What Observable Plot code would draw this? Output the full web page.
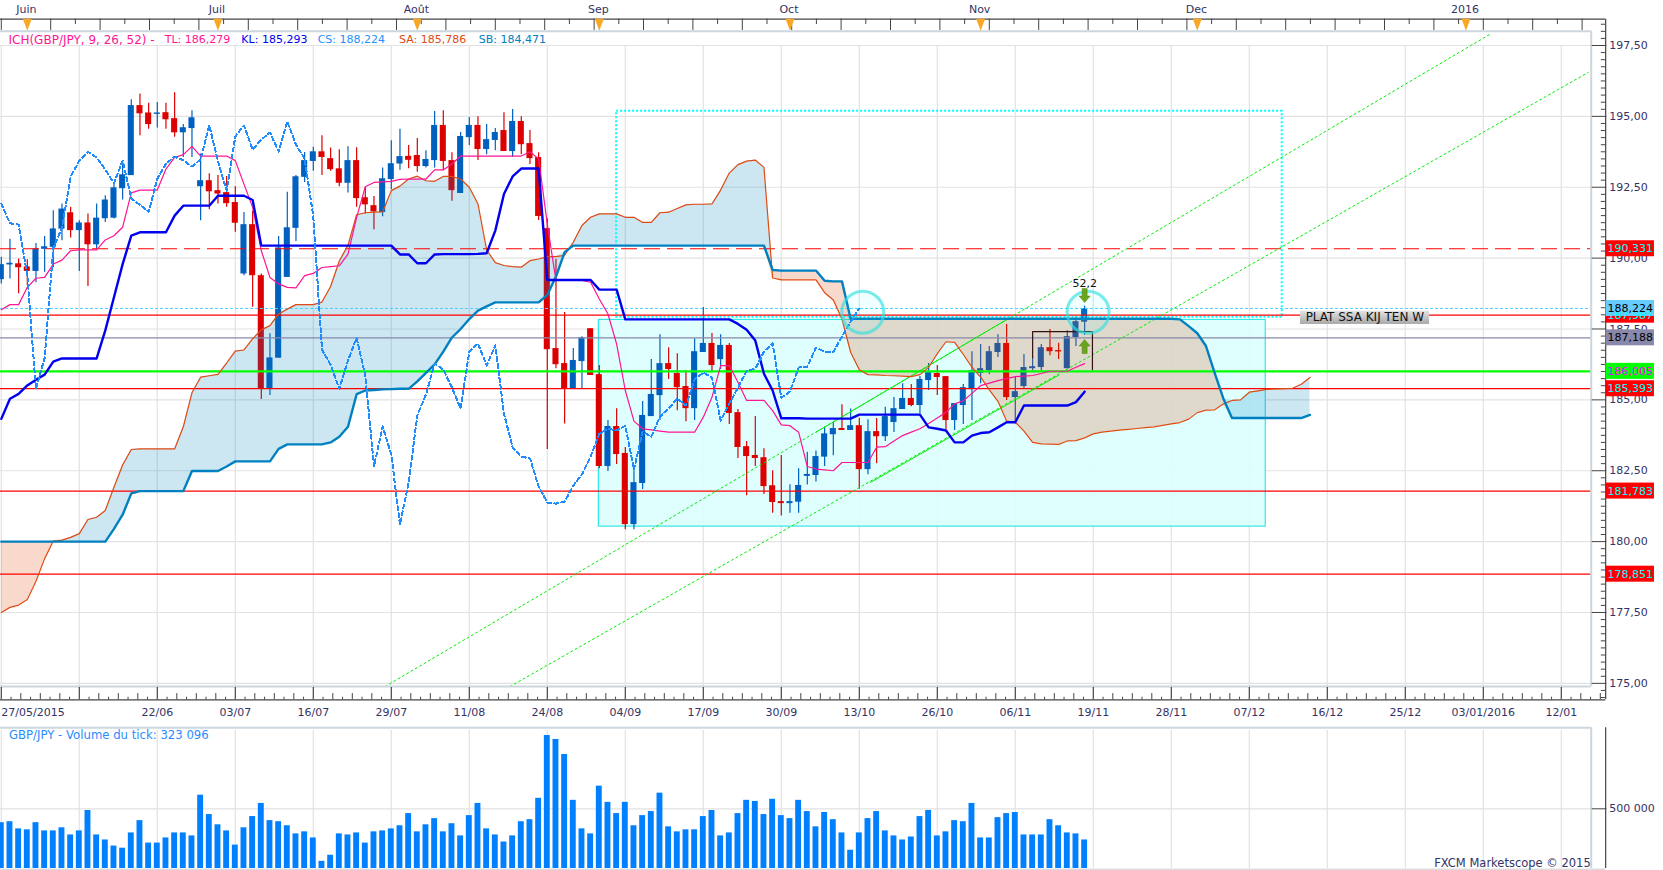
<!DOCTYPE html>
<html><head><meta charset="utf-8">
<script src="https://cdn.jsdelivr.net/npm/d3@7"></script>
<script src="https://cdn.jsdelivr.net/npm/@observablehq/plot@0.6"></script>
<style>html,body{margin:0;padding:0;background:#fff;overflow:hidden}svg{display:block}</style>
</head><body><div id="main"></div><div id="volume"></div>
<script>
// Daily candles, bar index = array position (last bar 125)
const open=[189.24,189.76,189.80,189.69,189.53,190.31,190.38,191.02,191.60,190.97,
191.24,190.47,191.39,191.41,192.45,192.91,195.38,195.12,195.07,195.13,
194.92,194.42,194.57,192.52,192.73,192.38,192.31,191.96,189.44,191.18,
189.38,185.39,186.47,189.32,191.05,192.85,193.41,193.75,193.51,193.15,
192.64,193.44,192.13,191.85,191.61,192.77,193.32,193.59,193.62,193.23,
193.44,194.68,193.44,192.28,194.25,194.68,193.83,194.15,194.50,193.76,
194.82,194.04,193.55,191.04,186.81,186.28,185.39,186.35,187.51,185.89,
182.65,184.06,183.11,180.60,182.05,184.41,185.15,186.28,185.93,185.47,
184.69,186.67,186.99,186.42,186.92,184.55,183.35,183.04,182.96,181.97,
181.41,181.34,181.39,182.30,182.33,182.98,183.77,183.99,183.92,184.09,
182.54,183.88,183.70,184.20,184.66,185.05,184.80,185.68,185.93,185.82,
184.27,184.80,185.40,185.93,186.03,186.67,186.99,185.08,185.47,186.10,
186.14,186.84,186.74,186.10,187.20,187.74];
const high=[190.03,190.67,189.97,189.94,190.52,190.76,191.67,191.91,191.79,191.32,
191.56,191.91,192.20,192.67,193.44,195.59,195.79,195.46,195.49,195.46,
195.83,194.71,195.20,193.67,192.98,192.91,192.88,192.52,191.61,191.65,
189.44,187.33,190.76,192.32,192.91,193.73,193.91,194.32,193.88,193.82,
193.93,193.89,192.50,192.17,193.18,194.14,194.55,193.97,194.22,193.79,
195.17,195.20,193.72,194.43,194.96,194.99,194.71,194.57,195.13,195.24,
194.99,194.50,193.72,191.39,189.95,188.08,186.81,187.23,187.51,186.21,
184.27,184.69,183.32,182.50,184.94,186.42,187.30,186.84,186.63,186.03,
187.16,188.26,187.34,187.30,186.99,184.66,183.53,184.41,183.28,182.50,
183.04,182.01,182.57,183.15,183.20,184.03,184.21,184.83,184.68,184.35,
184.30,184.34,184.74,185.08,185.57,185.54,185.82,186.28,186.21,185.82,
184.87,185.54,186.70,186.95,186.88,187.30,187.66,185.80,186.60,186.50,
186.95,187.48,187.00,187.44,187.94,188.30];
const low=[189.09,189.26,188.74,189.03,189.13,189.50,189.67,190.61,190.71,189.53,
189.00,190.32,191.26,191.38,192.05,192.91,194.32,194.55,194.59,194.55,
194.26,193.55,193.55,191.32,191.71,191.91,191.79,190.91,189.38,188.27,
185.01,185.15,186.47,189.32,190.59,192.67,193.06,192.91,193.06,192.52,
192.30,191.79,191.56,191.00,191.46,192.41,193.10,193.15,193.03,193.18,
193.18,193.09,192.01,192.28,193.97,193.44,193.65,193.79,193.76,193.56,
193.65,193.30,191.33,183.25,186.10,184.15,185.39,185.39,185.86,182.57,
182.47,182.72,180.42,180.42,181.84,184.41,184.27,185.72,184.62,184.23,
184.27,186.67,185.96,186.07,184.13,182.93,181.62,182.65,181.66,181.00,
180.90,181.00,181.00,182.00,182.10,182.65,183.03,183.92,183.92,181.85,
182.36,182.75,183.53,183.85,184.66,184.76,184.50,185.33,185.15,183.94,
183.92,184.13,184.27,185.57,185.89,186.49,184.98,184.15,185.39,186.03,
186.03,186.56,186.42,186.09,186.88,187.27];
const close=[189.77,189.82,189.66,189.53,190.32,190.40,191.03,191.73,190.97,191.24,
190.47,191.41,192.05,192.48,192.94,195.38,195.09,194.71,195.12,194.88,
194.42,194.60,194.95,192.73,192.34,192.26,191.92,191.23,191.18,189.38,
185.39,186.48,190.36,191.07,192.87,193.44,193.75,193.55,193.12,192.64,
193.44,192.10,191.88,191.63,192.80,193.33,193.58,193.45,193.23,193.48,
194.68,193.41,192.38,194.29,194.68,193.83,194.18,194.43,193.76,194.82,
194.00,193.51,191.47,186.77,186.24,185.39,186.39,187.19,185.86,182.65,
184.06,183.07,180.60,182.08,184.45,185.19,186.28,186.07,185.43,184.69,
186.70,186.99,186.21,186.92,184.52,183.32,183.00,182.93,181.94,181.38,
181.34,181.41,181.98,182.37,183.00,183.80,183.99,183.92,184.09,182.54,
183.88,183.70,184.41,184.69,185.05,184.80,185.72,185.96,185.79,184.27,
184.87,185.43,186.03,186.10,186.70,186.99,185.08,185.29,186.14,186.17,
186.84,186.70,186.69,187.23,187.76,188.22];
// Ichimoku lines, one value per bar
const tenkan=[188.18,188.36,188.36,188.97,189.29,189.32,189.79,189.93,190.26,190.29,
190.29,190.29,190.64,190.79,191.09,192.30,192.40,192.40,192.40,193.14,
193.55,193.65,193.94,193.60,193.60,193.60,193.60,193.44,192.61,191.79,
190.26,189.32,189.09,188.97,188.95,189.38,189.46,189.67,189.70,189.73,
190.14,191.44,192.52,192.67,192.69,192.71,192.78,192.79,192.79,192.79,
193.11,193.11,193.32,193.60,193.60,193.60,193.60,193.60,193.60,193.60,
193.60,193.75,193.50,191.20,189.21,189.21,189.21,189.21,189.15,188.56,
188.03,186.97,185.33,184.25,183.98,183.94,183.90,183.86,183.86,183.86,
183.86,184.39,185.09,186.21,186.21,185.62,184.98,184.98,184.98,184.62,
184.12,184.09,183.86,182.65,182.56,182.53,182.50,182.79,182.79,182.79,
182.79,183.33,183.35,183.55,183.74,183.86,183.98,184.17,184.36,184.56,
184.86,184.97,185.23,185.50,185.59,185.68,185.75,185.82,185.84,185.86,
185.93,186.01,186.01,186.01,186.15,186.28];
const kijun=[184.33,185.04,185.21,185.51,185.71,185.89,186.35,186.46,186.46,186.46,
186.46,186.46,187.45,188.62,189.79,190.79,190.91,190.91,190.91,190.91,
191.50,191.85,191.85,191.85,191.85,192.20,192.20,192.20,192.20,192.05,
190.44,190.44,190.44,190.44,190.44,190.44,190.44,190.44,190.44,190.44,
190.44,190.44,190.44,190.44,190.44,190.44,190.13,190.13,189.82,189.82,
190.13,190.14,190.14,190.14,190.14,190.15,190.17,190.97,192.26,192.88,
193.16,193.16,193.16,189.23,189.23,189.23,189.23,189.23,189.23,188.89,
188.89,188.89,187.84,187.84,187.84,187.84,187.84,187.84,187.84,187.84,
187.84,187.84,187.84,187.84,187.84,187.68,187.47,187.09,185.92,185.33,
184.35,184.35,184.35,184.34,184.34,184.34,184.34,184.34,184.34,184.48,
184.48,184.48,184.48,184.48,184.48,184.48,184.48,184.03,183.98,183.92,
183.50,183.50,183.74,183.83,183.86,184.03,184.21,184.21,184.80,184.80,
184.80,184.80,184.80,184.80,184.92,185.29];
const chikou=[191.92,191.23,191.18,189.38,185.39,186.48,190.36,191.07,192.87,193.44,
193.75,193.55,193.12,192.64,193.44,192.10,191.88,191.63,192.80,193.33,
193.58,193.45,193.23,193.48,194.68,193.41,192.38,194.29,194.68,193.83,
194.18,194.43,193.76,194.82,194.00,193.51,191.47,186.77,186.24,185.39,
186.39,187.19,185.86,182.65,184.06,183.07,180.60,182.08,184.45,185.19,
186.28,186.07,185.43,184.69,186.70,186.99,186.21,186.92,184.52,183.32,
183.00,182.93,181.94,181.38,181.34,181.41,181.98,182.37,183.00,183.80,
183.99,183.92,184.09,182.54,183.88,183.70,184.41,184.69,185.05,184.80,
185.72,185.96,185.79,184.27,184.87,185.43,186.03,186.10,186.70,186.99,
185.08,185.29,186.14,186.17,186.84,186.70,186.69,187.23,187.76,188.22];
const senkouA=[177.50,177.68,177.76,177.96,178.60,179.40,180.02,180.05,180.15,180.28,
180.78,180.86,181.10,181.92,182.70,183.25,183.27,183.27,183.27,183.27,
183.27,184.05,185.25,185.80,185.85,185.90,186.30,186.72,186.76,187.15,
187.47,187.62,188.03,188.20,188.36,188.36,188.36,188.45,189.00,189.90,
190.45,191.53,191.60,191.62,191.63,192.38,192.54,192.79,192.89,192.73,
192.71,192.88,192.88,192.79,192.50,191.91,190.29,189.84,189.74,189.70,
189.68,189.91,189.97,190.05,190.05,190.10,190.56,191.15,191.44,191.56,
191.56,191.56,191.44,191.44,191.26,191.26,191.60,191.62,191.75,191.88,
191.90,191.90,191.91,192.40,193.00,193.30,193.42,193.46,193.20,189.30,
189.23,189.23,189.23,189.23,189.23,188.78,188.52,187.85,186.68,186.06,
185.89,185.88,185.86,185.85,185.84,185.82,185.89,186.15,186.63,187.05,
187.03,186.60,186.15,185.80,185.35,184.95,184.25,184.21,183.90,183.50,
183.45,183.44,183.43,183.55,183.56,183.66,183.80,183.86,183.90,183.93,
183.96,183.99,184.02,184.05,184.10,184.15,184.20,184.32,184.55,184.64,
184.65,184.85,184.98,185.00,185.27,185.32,185.37,185.39,185.40,185.41,
185.55,185.79];
const senkouB=[180.00,180.00,180.00,180.00,180.00,180.00,180.00,180.00,180.00,180.00,
180.00,180.00,180.00,180.45,180.95,181.70,181.78,181.78,181.78,181.78,
181.78,181.78,182.49,182.49,182.49,182.49,182.65,182.83,182.83,182.83,
182.83,182.83,183.27,183.43,183.43,183.43,183.43,183.43,183.50,183.70,
184.05,185.20,185.33,185.35,185.37,185.38,185.39,185.39,185.65,185.95,
186.25,186.70,187.20,187.50,187.85,188.15,188.30,188.44,188.44,188.44,
188.44,188.44,188.44,188.70,189.35,190.21,190.44,190.44,190.44,190.44,
190.44,190.44,190.44,190.44,190.44,190.44,190.44,190.44,190.44,190.44,
190.44,190.44,190.44,190.44,190.44,190.44,190.44,190.44,190.44,189.58,
189.56,189.56,189.56,189.56,189.56,189.20,189.18,189.18,187.86,187.86,
187.86,187.86,187.86,187.86,187.86,187.86,187.86,187.86,187.86,187.86,
187.86,187.86,187.86,187.86,187.86,187.86,187.86,187.86,187.86,187.86,
187.86,187.86,187.86,187.86,187.86,187.86,187.86,187.86,187.86,187.86,
187.86,187.86,187.86,187.86,187.86,187.86,187.84,187.60,187.35,186.90,
185.95,185.05,184.36,184.36,184.36,184.36,184.36,184.36,184.36,184.36,
184.36,184.47];
const volume=[384,392,332,324,384,315,315,341,281,315,486,281,239,188,170,298,401,213,213,256,
298,298,273,614,452,366,315,196,341,435,545,401,392,358,290,307,256,60,111,290,
281,298,213,307,315,332,358,460,307,366,418,307,375,273,443,545,332,281,222,273,
392,409,588,1114,1081,955,571,332,290,690,554,460,554,358,443,477,631,349,307,324,
324,435,486,273,298,460,571,562,452,580,443,418,571,477,349,469,409,298,153,298,
418,477,315,273,239,264,435,486,273,307,401,392,545,256,256,426,460,469,281,281,
281,409,358,298,290,239].map(k=>k*1000);
// Axis ticks and labels
const tickBars=[0,9,18,27,36,45,54,63,72,81,90,99,108,117,126,135,144,153,162,171,180];
const tickLabels=["27/05/2015","","22/06","03/07","16/07","29/07","11/08","24/08","04/09","17/09","30/09","13/10","26/10","06/11","19/11","28/11","07/12","16/12","25/12","03/01/2016","12/01"];
const monthBars=[3,25,48,69,91,113,138,169];
const monthLabels=["Juin","Juil","Août","Sep","Oct","Nov","Dec","2016"];
const priceTicks=[175,177.5,180,182.5,185,187.5,190,192.5,195,197.5];
// Horizontal levels
const redLevels=[187.987,185.393,181.783,178.851];
const dashedLevel=190.331, chikouLevel=188.224, kijunLevel=187.188, greenLevel=186.005;
const tagLevels=[190.331,187.987,188.224,187.188,186.005,185.393,181.783,178.851];
const tagFill=["#ff0000","#ff0000","#66ccff","#8888aa","#00ff00","#ff0000","#ff0000","#ff0000"];
const tagText=["#00ffff","#00ffff","#000000","#000000","#ff00ff","#00ffff","#00ffff","#00ffff"];
// Channel end points (bar, price)
const channelUpper=[[44.3,174.89],[171.9,197.92]];
const channelLower=[[58.7,174.89],[183.1,196.55]];
const channelUpperDense=[[94,183.86],[116,187.83]];
const channelLowerDense=[[100.3,182.09],[122,185.87]];
// Legend
const legendText=["ICH(GBP/JPY, 9, 26, 52) -","TL: 186,279","KL: 185,293","CS: 188,224","SA: 185,786","SB: 184,471"];
const legendBars=[0.83,18.85,27.7,36.5,45.9,55.1];
const legendColors=["#ff1493","#ff1493","#0000ee","#1e90ff","#e04a10","#0080c0"];

const font="DejaVu Sans, Verdana, sans-serif";
const navy="#333366", gridC="#e2e2e2", frameC="#ccd6de", axisC="#444444", crisp="crispEdges";
const bars=close.map((c,i)=>({i,o:open[i],h:high[i],l:low[i],c,up:c>=open[i]}));
const cloud=senkouA.map((a,i)=>({i,a,b:senkouB[i]}));
const xDomain=[-0.0923,183.45];
const comma=(v,n=2)=>v.toFixed(n).replace(".",",");
const minorX=d3.range(0,184.6,1.125).filter(v=>Math.abs(v/9-Math.round(v/9))>1e-6);
const minorTop=d3.range(0,183,2.85);
const minorY=d3.range(174.5,198.26,0.25).filter(v=>Math.abs(v/2.5-Math.round(v/2.5))>1e-6);

// price coordinates of the chart furniture outside the frame
const P={strip:198.43,stripTick:198.03,stripMid:198.24,top:198.0,border:174.89,monthY:198.77,legendY:197.70,triY:198.23};
const B={border:183.45,axis:185.12,minor:184.62,chipL:185.15,chipR:190.75};

const arrow=(dir)=>({draw(c,size){const s=Math.sqrt(size/Math.PI)/7*dir;
  c.moveTo(0,-7*s);c.lineTo(5.5*s,-0.5*s);c.lineTo(2.5*s,-0.5*s);c.lineTo(2.5*s,7*s);c.lineTo(-2.5*s,7*s);c.lineTo(-2.5*s,-0.5*s);c.lineTo(-5.5*s,-0.5*s);c.closePath();}});
const tri={draw(c,size){const s=Math.sqrt(size/Math.PI)/6;c.moveTo(-4.5*s,-6*s);c.lineTo(4.5*s,-6*s);c.lineTo(0,6*s);c.closePath();}};

const gradient=()=>{const d=d3.create("svg:defs");const g=d.append("linearGradient").attr("id","labelGrad").attr("x1",0).attr("x2",0).attr("y1",0).attr("y2",1);
  g.append("stop").attr("offset",0).attr("stop-color","#e4e4e4");g.append("stop").attr("offset",1).attr("stop-color","#a8a8a8");return d.node();};

const main=Plot.plot({
  width:1663,height:727,marginLeft:0,marginRight:72.3,marginTop:45,marginBottom:27.7,
  style:{background:"#fff",fontFamily:font,fontSize:"11px",overflow:"visible"},
  x:{domain:xDomain,axis:null},y:{domain:[174.42,197.5],axis:null},
  marks:[
    gradient,
    // grid
    Plot.ruleY(priceTicks,{stroke:gridC,strokeWidth:1.2}),
    Plot.ruleX(tickBars,{y1:197.5,y2:P.border,stroke:gridC,strokeWidth:1.2}),
    // light box
    Plot.rect([0],{x1:68.95,x2:145.9,y1:180.53,y2:187.82,fill:"#dcffff",fillOpacity:0.9,stroke:"#33e6e6",strokeWidth:1.2}),
    // candles
    Plot.ruleX(bars,{x:"i",y1:"l",y2:"h",stroke:d=>d.up?"#0060c0":"#dd0000",strokeWidth:1.2}),
    Plot.rect(bars,{x1:d=>d.i-0.35,x2:d=>d.i+0.35,y1:"o",y2:"c",fill:d=>d.up?"#0060c0":"#dd0000"}),
    // cloud
    Plot.areaY(cloud,{x:"i",y1:"b",y2:d=>Math.max(d.a,d.b),fill:"#0080c0",fillOpacity:0.2}),
    Plot.areaY(cloud,{x:"i",y1:"b",y2:d=>Math.min(d.a,d.b),fill:"#e04000",fillOpacity:0.2}),
    // dotted box
    Plot.rect([0],{x1:71,x2:147.8,y1:187.91,y2:195.18,stroke:"#00ffff",strokeWidth:2,strokeDasharray:"2,2",fill:"none"}),
    // levels
    Plot.ruleY(redLevels,{stroke:"#ff0000",strokeWidth:1.2}),
    Plot.ruleY([dashedLevel],{stroke:"#ff0000",strokeWidth:1.2,strokeDasharray:"16,7"}),
    Plot.ruleY([chikouLevel],{stroke:"#55ccff",strokeWidth:1,strokeDasharray:"3,2"}),
    Plot.ruleY([kijunLevel],{stroke:"#8888aa",strokeWidth:1.2}),
    Plot.ruleY([greenLevel],{stroke:"#00ff00",strokeWidth:2.4}),
    // channel
    Plot.line(channelUpper,{stroke:"#00ee00",strokeWidth:1,strokeDasharray:"2,3"}),
    Plot.line(channelLower,{stroke:"#00ee00",strokeWidth:1,strokeDasharray:"2,3"}),
    Plot.line(channelUpperDense,{stroke:"#00ee00",strokeWidth:1}),
    Plot.line(channelLowerDense,{stroke:"#00ee00",strokeWidth:1}),
    // ichimoku lines
    Plot.line(senkouA,{x:(d,i)=>i,y:d=>d,stroke:"#e04a10",strokeWidth:1.2}),
    Plot.line(senkouB,{x:(d,i)=>i,y:d=>d,stroke:"#0080c0",strokeWidth:2.4}),
    Plot.line(tenkan,{x:(d,i)=>i,y:d=>d,stroke:"#ff1493",strokeWidth:1.2}),
    Plot.line(kijun,{x:(d,i)=>i,y:d=>d,stroke:"#0000ee",strokeWidth:2.4}),
    Plot.line(chikou,{x:(d,i)=>i,y:d=>d,stroke:"#1e8cff",strokeWidth:2,strokeDasharray:"4,3",shapeRendering:crisp}),
    // bracket, circles, signals
    Plot.line([[119,186.49],[119,187.41],[125.9,187.41],[125.9,186.07]],{stroke:"#331111",strokeWidth:1.2}),
    Plot.dot([[99.4,188.09],[125.4,188.09]],{r:21,stroke:"#30e0e0",strokeOpacity:0.65,strokeWidth:3,fill:"#00ffff",fillOpacity:0.06}),
    Plot.dot([[125,188.68]],{symbol:arrow(-1),r:7,fill:"#6aa51c",stroke:"#4f8010",strokeWidth:0.5}),
    Plot.dot([[125,186.88]],{symbol:arrow(1),r:7,fill:"#6aa51c",stroke:"#4f8010",strokeWidth:0.5}),
    Plot.text(["52,2"],{x:125,y:189.11,text:d=>d,fill:"#111",fontSize:11}),
    Plot.rect([0],{x1:149.9,x2:164.8,y1:187.66,y2:188.13,fill:"url(#labelGrad)"}),
    Plot.text(["PLAT SSA KIJ TEN W"],{x:150.5,y:187.9,text:d=>d,textAnchor:"start",fill:"#111",fontSize:12}),
    // frame
    Plot.ruleX([B.border],{y1:P.top,y2:P.border,stroke:frameC,strokeWidth:2}),
    Plot.ruleY([P.top,P.border],{x1:xDomain[0],x2:B.border,stroke:frameC,strokeWidth:2}),
    // top date strip
    Plot.ruleY([P.strip],{x1:xDomain[0],x2:B.axis,stroke:axisC,strokeWidth:1.2}),
    Plot.ruleX(minorTop,{y1:P.strip,y2:(d,i)=>i%2?P.stripMid:P.stripTick,stroke:axisC,strokeWidth:1}),
    Plot.dot(monthBars,{x:d=>d,y:P.triY,symbol:tri,r:6,fill:"#f9a825"}),
    Plot.text(monthLabels,{x:(d,i)=>monthBars[i],y:P.monthY,dx:-1,text:d=>d,fill:navy,fontSize:11}),
    // legend
    Plot.text(legendText.slice(0,1),{x:legendBars[0],y:P.legendY,text:d=>d,textAnchor:"start",fill:legendColors[0],fontSize:12}),
    Plot.text(legendText.slice(1),{x:(d,i)=>legendBars[i+1],y:P.legendY,text:d=>d,textAnchor:"start",fill:(d,i)=>legendColors[i+1],fontSize:11}),
    // bottom date axis
    Plot.axisX(tickBars.slice(2),{anchor:"bottom",tickSize:0,tickPadding:8,tickFormat:d=>tickLabels[tickBars.indexOf(d)],label:null,color:navy,fontVariant:"normal"}),
    Plot.axisX([0],{anchor:"bottom",tickSize:0,tickPadding:8,tickFormat:d=>tickLabels[0],label:null,color:navy,textAnchor:"start",fontVariant:"normal"}),
    Plot.ruleY([174.42],{x1:xDomain[0],x2:B.axis,stroke:axisC,strokeWidth:1.2}),
    Plot.ruleX(tickBars,{y1:174.42,y2:174.85,stroke:axisC,strokeWidth:1.2}),
    Plot.ruleX(minorX,{y1:174.42,y2:d=>Math.round(d/1.125)%2?174.51:174.64,stroke:axisC,strokeWidth:1}),
    // right price axis
    Plot.ruleX([B.axis],{y1:P.strip,y2:174.42,stroke:axisC,strokeWidth:1.2}),
    Plot.ruleY(minorY,{x1:B.minor,x2:B.axis,stroke:axisC,strokeWidth:1}),
    Plot.axisY(priceTicks,{anchor:"right",tickSize:14.6,tickPadding:3.4,tickFormat:d=>comma(d),label:null,stroke:axisC,fill:navy,fontVariant:"normal"}),
    // level tags
    Plot.rect(tagLevels,{x1:B.chipL,x2:B.chipR,y1:d=>d-0.282,y2:d=>d+0.282,fill:(d,i)=>tagFill[i]}),
    Plot.text(tagLevels,{x:(B.chipL+B.chipR)/2,y:d=>d,text:d=>comma(d,3),fill:(d,i)=>tagText[i],fontSize:11})
  ]});
document.getElementById("main").append(main);

const volBars=volume.map((v,i)=>({i,v}));
const vol=Plot.plot({
  width:1663,height:143,marginLeft:0,marginRight:72.3,marginTop:3,marginBottom:2,
  style:{background:"#fff",fontFamily:font,fontSize:"11px",overflow:"visible"},
  x:{domain:xDomain,axis:null},y:{domain:[0,1156000],axis:null},
  marks:[
    Plot.ruleY([500000],{stroke:gridC,strokeWidth:1.2}),
    Plot.ruleX(tickBars,{stroke:gridC,strokeWidth:1.2}),
    Plot.rect(volBars,{x1:d=>d.i-0.34,x2:d=>d.i+0.34,y1:0,y2:"v",fill:"#0080ff"}),
    Plot.ruleY([1180000],{x1:xDomain[0],x2:B.border,stroke:frameC,strokeWidth:2}),
    Plot.ruleY([-8000],{x1:xDomain[0],x2:B.axis,stroke:"#dddddd",strokeWidth:2}),
    Plot.ruleX([B.border],{y1:1180000,y2:0,stroke:frameC,strokeWidth:2}),
    Plot.ruleX([B.axis],{y1:1180000,y2:0,stroke:axisC,strokeWidth:1.2}),
    Plot.axisY([500000],{anchor:"right",tickSize:14.6,tickPadding:3.4,tickFormat:()=>"500 000",label:null,stroke:axisC,fill:navy,fontVariant:"normal"}),
    Plot.text(["GBP/JPY - Volume du tick: 323 096"],{x:0.88,y:1114000,text:d=>d,textAnchor:"start",fill:"#2a8cff",fontSize:11.7}),
    Plot.text(["FXCM Marketscope © 2015"],{x:183.4,y:45000,text:d=>d,textAnchor:"end",fill:navy,fontSize:11.5})
  ]});
document.getElementById("volume").append(vol);
</script></body></html>
